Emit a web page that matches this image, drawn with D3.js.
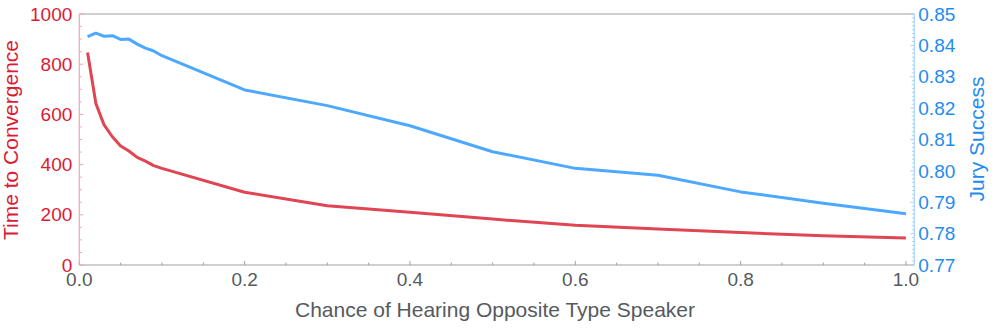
<!DOCTYPE html>
<html>
<head>
<meta charset="utf-8">
<script src="https://cdn.jsdelivr.net/npm/d3@7"></script>
<style>
  html, body { margin: 0; padding: 0; background: #fff; }
  svg { display: block; font-family: "Liberation Sans", Arial, sans-serif; }
</style>
</head>
<body>
<svg id="chart" width="1000" height="329"></svg>
<script>
// ---- data ----
const xValues = [0.01, 0.02, 0.03, 0.04, 0.05, 0.06, 0.07, 0.08, 0.09, 0.1,
                 0.2, 0.3, 0.4, 0.5, 0.6, 0.7, 0.8, 0.9, 1.0];
const timeToConvergence = [847, 644, 558, 511, 474, 454, 429, 414, 396, 385,
                           290, 236, 210, 183, 158, 143, 129, 117, 108];
const jurySuccess = [0.8428, 0.8439, 0.8429, 0.8431, 0.8419, 0.8420, 0.8404, 0.8391, 0.8382, 0.8367,
                     0.8258, 0.8208, 0.8144, 0.8061, 0.8008, 0.7986, 0.7933, 0.7897, 0.7863];
const xTicks = [0.0, 0.2, 0.4, 0.6, 0.8, 1.0];
const xTickLabels = ["0.0", "0.2", "0.4", "0.6", "0.8", "1.0"];
const leftTicks = [0, 200, 400, 600, 800, 1000];
const rightTicks = [0.77, 0.78, 0.79, 0.80, 0.81, 0.82, 0.83, 0.84, 0.85];
const rightTickLabels = ["0.77", "0.78", "0.79", "0.80", "0.81", "0.82", "0.83", "0.84", "0.85"];
const xTitle = "Chance of Hearing Opposite Type Speaker";
const leftTitle = "Time to Convergence";
const rightTitle = "Jury Success";

// ---- layout ----
const L = 79.3, R = 914.3, T = 14, B = 265;
const redLine = "#e04553", redText = "#dc1a34", redAxis = "#f2a5ad";
const blueLine = "#4da8ff", blueText = "#1e8cf0", blueAxis = "#a9d3fb";
const gray = "#555a60", frame = "#a0a0a0";

const svg = d3.select("#chart");
const x = d3.scaleLinear().domain([0, 1.0101]).range([L, R]);
const yL = d3.scaleLinear().domain([0, 1000]).range([B, T]);
const yR = d3.scaleLinear().domain([0.77, 0.85]).range([B, T]);

// frame top/bottom
svg.append("line").attr("x1", L).attr("x2", R).attr("y1", T).attr("y2", T)
  .attr("stroke", frame).attr("stroke-width", 1);

// bottom axis
const xMinor = d3.range(0, 1.0001, 0.05);
const gx = svg.append("g").attr("transform", `translate(0,${B})`);
gx.append("line").attr("x1", L).attr("x2", R).attr("stroke", frame).attr("stroke-width", 1);
gx.selectAll("line.minor").data(xMinor).join("line").attr("class", "minor")
  .attr("x1", d => x(d)).attr("x2", d => x(d)).attr("y1", 0)
  .attr("y2", (d, i) => i % 4 === 0 ? -4 : -2.5)
  .attr("stroke", frame).attr("stroke-width", 1);
gx.selectAll("text").data(xTicks).join("text")
  .attr("x", d => x(d)).attr("y", 21)
  .attr("text-anchor", "middle").attr("fill", gray).attr("font-size", 19)
  .text((d, i) => xTickLabels[i]);

// left axis
const gl = svg.append("g").attr("transform", `translate(${L},0)`);
gl.append("line").attr("y1", T).attr("y2", B).attr("stroke", redAxis).attr("stroke-width", 1.2);
gl.selectAll("line.minor").data(d3.range(0, 1001, 50)).join("line").attr("class", "minor")
  .attr("y1", d => yL(d)).attr("y2", d => yL(d)).attr("x1", 0)
  .attr("x2", d => d % 200 === 0 ? 4 : 2.5)
  .attr("stroke", redAxis).attr("stroke-width", 1);
gl.selectAll("text").data(leftTicks).join("text")
  .attr("x", -7).attr("y", d => yL(d)).attr("dy", "0.35em")
  .attr("text-anchor", "end").attr("fill", redText).attr("font-size", 19)
  .text(d => d);

// right axis
const gr = svg.append("g").attr("transform", `translate(${R},0)`);
gr.append("line").attr("y1", T).attr("y2", B).attr("stroke", blueAxis).attr("stroke-width", 1.2);
gr.selectAll("line.minor").data(d3.range(0, 65)).join("line").attr("class", "minor")
  .attr("y1", i => yR(0.77 + i * 0.00125)).attr("y2", i => yR(0.77 + i * 0.00125)).attr("x1", 0)
  .attr("x2", i => i % 8 === 0 ? -4 : -2.5)
  .attr("stroke", blueAxis).attr("stroke-width", 1);
gr.selectAll("text").data(rightTicks).join("text")
  .attr("x", 4).attr("y", d => yR(d)).attr("dy", "0.35em")
  .attr("text-anchor", "start").attr("fill", blueText).attr("font-size", 19)
  .text((d, i) => rightTickLabels[i]);

// lines
const redPath = d3.line().x((d, i) => x(xValues[i])).y(d => yL(d));
const bluePath = d3.line().x((d, i) => x(xValues[i])).y(d => yR(d));
svg.append("path").datum(jurySuccess).attr("d", bluePath)
  .attr("fill", "none").attr("stroke", blueLine).attr("stroke-width", 3).attr("stroke-linejoin", "round");
svg.append("path").datum(timeToConvergence).attr("d", redPath)
  .attr("fill", "none").attr("stroke", redLine).attr("stroke-width", 3).attr("stroke-linejoin", "round");

// titles
svg.append("text").attr("x", 495).attr("y", 317).attr("text-anchor", "middle")
  .attr("fill", gray).attr("font-size", 21).text(xTitle);
svg.append("text").attr("transform", "translate(18,140) rotate(-90)").attr("text-anchor", "middle")
  .attr("fill", redText).attr("font-size", 21).text(leftTitle);
svg.append("text").attr("transform", "translate(984,139) rotate(-90)").attr("text-anchor", "middle")
  .attr("fill", blueText).attr("font-size", 21).text(rightTitle);
</script>
</body>
</html>
